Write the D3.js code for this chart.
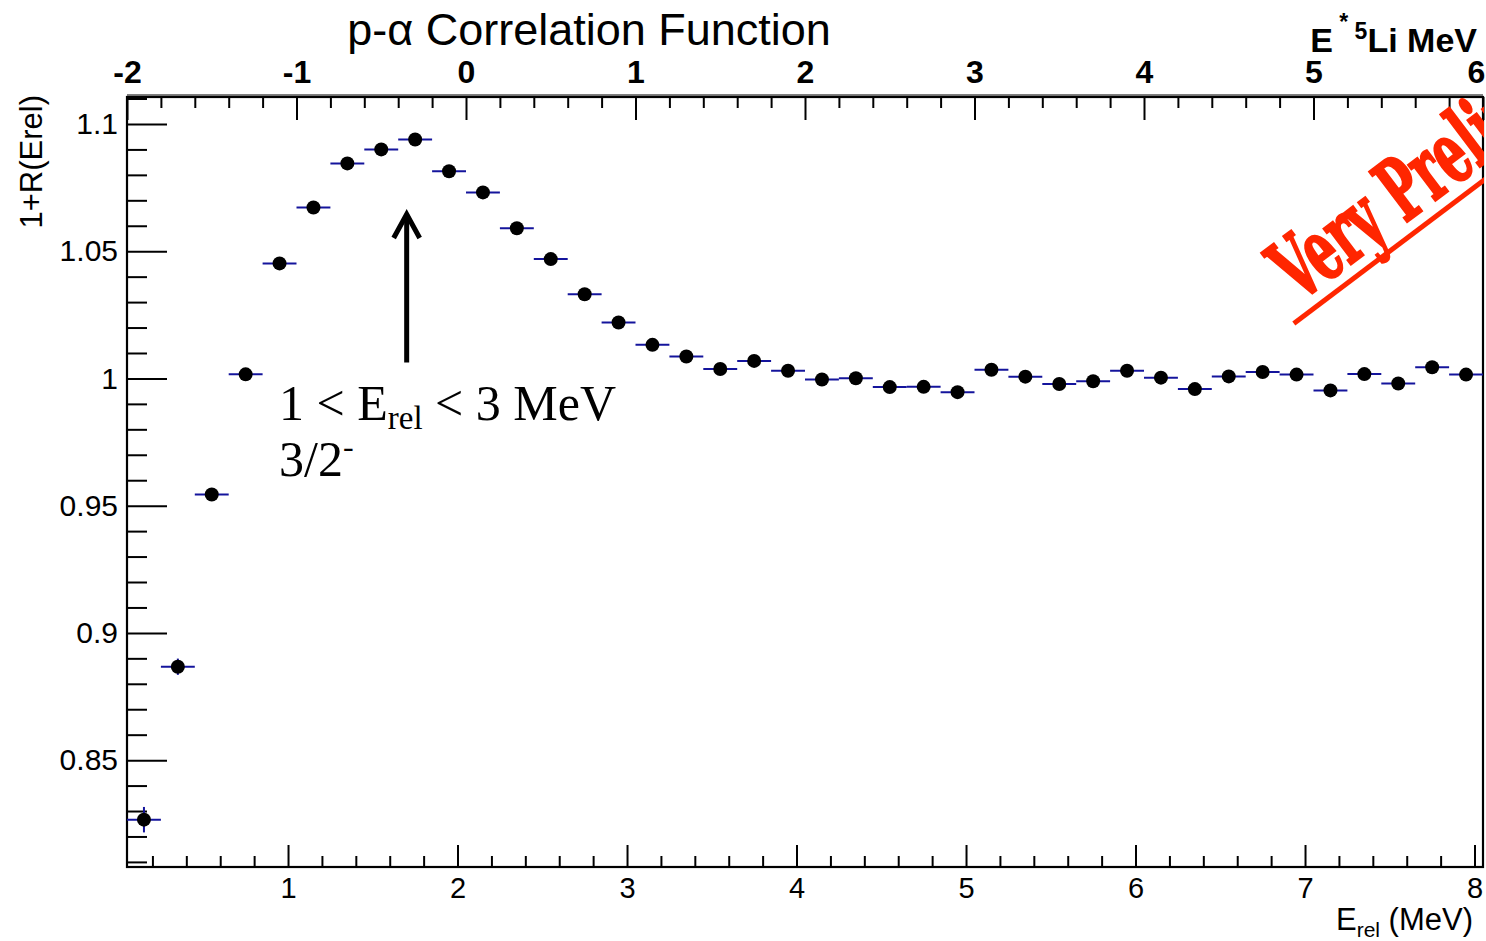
<!DOCTYPE html>
<html>
<head>
<meta charset="utf-8">
<script src="https://cdn.jsdelivr.net/npm/d3@7/dist/d3.min.js"></script>
<style>
  html, body { margin: 0; padding: 0; background: #fff; }
  svg { display: block; }
</style>
</head>
<body>
<svg id="chart" width="1486" height="941"></svg>
<script>
// p-alpha correlation function, 0.2 MeV bins in relative energy
const binCenters = [
  0.15, 0.35, 0.55, 0.75, 0.95, 1.15, 1.35, 1.55, 1.75, 1.95,
  2.15, 2.35, 2.55, 2.75, 2.95, 3.15, 3.35, 3.55, 3.75, 3.95,
  4.15, 4.35, 4.55, 4.75, 4.95, 5.15, 5.35, 5.55, 5.75, 5.95,
  6.15, 6.35, 6.55, 6.75, 6.95, 7.15, 7.35, 7.55, 7.75, 7.95
];
const corrValues = [
  0.8266, 0.8867, 0.9544, 1.0016, 1.0452, 1.0672, 1.0845, 1.0900, 1.0939, 1.0814,
  1.0731, 1.0590, 1.0469, 1.0331, 1.0220, 1.0132, 1.0086, 1.0037, 1.0069, 1.0030,
  0.9996, 1.0001, 0.9966, 0.9967, 0.9946, 1.0034, 1.0007, 0.9978, 0.9989, 1.0030,
  1.0003, 0.9958, 1.0008, 1.0025, 1.0015, 0.9953, 1.0017, 0.9980, 1.0044, 1.0015
];
const corrErrors = [
  0.0050, 0.0032, 0.0024, 0.0020, 0.0018, 0.0017, 0.0016, 0.0016, 0.0015, 0.0015,
  0.0015, 0.0015, 0.0014, 0.0014, 0.0014, 0.0014, 0.0014, 0.0014, 0.0014, 0.0014,
  0.0014, 0.0014, 0.0014, 0.0014, 0.0014, 0.0014, 0.0014, 0.0014, 0.0014, 0.0014,
  0.0014, 0.0014, 0.0014, 0.0014, 0.0014, 0.0014, 0.0014, 0.0014, 0.0014, 0.0014
];
const binHalfWidth = 0.1;

// axis ticks
const bottomMajor = [1, 2, 3, 4, 5, 6, 7, 8];
const topMajor = [-2, -1, 0, 1, 2, 3, 4, 5, 6];
const leftMajor = [0.85, 0.9, 0.95, 1, 1.05, 1.1];

// excitation energy of 5Li = E_rel - 2.05 MeV
const eStarOffset = 2.05;

const W = 1486, H = 941;
const frame = { left: 127, right: 1483, top: 97, bottom: 867 };

const svg = d3.select("#chart");

const x = d3.scaleLinear().domain([0.05, 8.05]).range([frame.left, frame.right]);
const xTop = d3.scaleLinear()
  .domain([0.05 - eStarOffset, 8.05 - eStarOffset])
  .range([frame.left, frame.right]);
const y = d3.scaleLinear().domain([0.808, 1.1106]).range([frame.bottom, frame.top]);

const sans = "'Liberation Sans', Arial, Helvetica, sans-serif";
const serif = "'Liberation Serif', 'Times New Roman', serif";

const round2 = v => Math.round(v * 100) / 100;
const bottomMinor = d3.range(1, 41).map(i => round2(i * 0.2)).filter(v => !Number.isInteger(v) && v <= 8.05);
const topMinor = d3.range(-10, 31).map(i => round2(i * 0.2)).filter(v => !Number.isInteger(v) && v >= -2 && v <= 6);
const leftMinor = d3.range(81, 112).map(i => i / 100).filter(v => Math.round(v * 100) % 5 !== 0);

function styleAxis(g, size) {
  g.select(".domain").remove();
  g.selectAll(".tick line").attr("stroke", "#000").attr("stroke-width", 2);
  g.selectAll(".tick text").attr("fill", "#000").attr("font-family", sans).attr("font-size", size);
}

// bottom axis (ticks point into the frame)
svg.append("g")
  .attr("transform", `translate(0,${frame.bottom})`)
  .call(d3.axisBottom(x).tickValues(bottomMinor).tickFormat("").tickSizeInner(-11).tickSizeOuter(0))
  .call(g => styleAxis(g, 29));
svg.append("g")
  .attr("transform", `translate(0,${frame.bottom})`)
  .call(d3.axisBottom(x).tickValues(bottomMajor).tickFormat(d3.format("d")).tickSizeInner(-22).tickSizeOuter(0).tickPadding(10))
  .call(g => styleAxis(g, 29));

// top axis: E* of 5Li
svg.append("g")
  .attr("transform", `translate(0,${frame.top})`)
  .call(d3.axisTop(xTop).tickValues(topMinor).tickFormat("").tickSizeInner(-11).tickSizeOuter(0))
  .call(g => styleAxis(g, 32));
svg.append("g")
  .attr("transform", `translate(0,${frame.top})`)
  .call(d3.axisTop(xTop).tickValues(topMajor).tickFormat(d3.format("d")).tickSizeInner(-23).tickSizeOuter(0).tickPadding(14))
  .call(g => styleAxis(g, 32))
  .call(g => g.selectAll(".tick text")
    .attr("font-weight", "bold")
    .text(d => d < 0 ? "-" + Math.abs(d) : d)
    .attr("dx", d => d === 6 ? -7 : 0));

// left axis
svg.append("g")
  .attr("transform", `translate(${frame.left},0)`)
  .call(d3.axisLeft(y).tickValues(leftMinor).tickFormat("").tickSizeInner(-20).tickSizeOuter(0))
  .call(g => styleAxis(g, 30));
svg.append("g")
  .attr("transform", `translate(${frame.left},0)`)
  .call(d3.axisLeft(y).tickValues(leftMajor).tickFormat(d => String(d)).tickSizeInner(-40).tickSizeOuter(0).tickPadding(9))
  .call(g => styleAxis(g, 30));

// frame
svg.append("rect")
  .attr("x", frame.left).attr("y", frame.top)
  .attr("width", frame.right - frame.left).attr("height", frame.bottom - frame.top)
  .attr("fill", "none").attr("stroke", "#000").attr("stroke-width", 2.2);
svg.append("line")
  .attr("x1", frame.left).attr("x2", frame.right)
  .attr("y1", frame.top - 2).attr("y2", frame.top - 2)
  .attr("stroke", "#000").attr("stroke-width", 1.2);

// data points with error bars
const points = binCenters.map((c, i) => ({ x: c, v: corrValues[i], e: corrErrors[i] }));
const pts = svg.append("g");
pts.selectAll("line.hbar").data(points).join("line")
  .attr("class", "hbar")
  .attr("x1", d => x(d.x - binHalfWidth)).attr("x2", d => x(d.x + binHalfWidth))
  .attr("y1", d => y(d.v)).attr("y2", d => y(d.v))
  .attr("stroke", "#14149c").attr("stroke-width", 2);
pts.selectAll("line.vbar").data(points).join("line")
  .attr("class", "vbar")
  .attr("x1", d => x(d.x)).attr("x2", d => x(d.x))
  .attr("y1", d => y(d.v - d.e)).attr("y2", d => y(d.v + d.e))
  .attr("stroke", "#14149c").attr("stroke-width", 2);
pts.selectAll("circle").data(points).join("circle")
  .attr("cx", d => x(d.x)).attr("cy", d => y(d.v)).attr("r", 7)
  .attr("fill", "#000");

// title
svg.append("text")
  .attr("x", 589).attr("y", 45)
  .attr("text-anchor", "middle")
  .attr("font-family", sans).attr("font-size", 45)
  .text("p-α Correlation Function");

// top axis title
const topTitle = svg.append("text")
  .attr("x", 1477).attr("y", 52)
  .attr("text-anchor", "end")
  .attr("font-family", sans).attr("font-size", 34).attr("font-weight", "bold");
topTitle.append("tspan").text("E");
topTitle.append("tspan").attr("font-size", 23).attr("dy", -22).text(" *");
topTitle.append("tspan").attr("font-size", 23).attr("dy", 9).text(" 5");
topTitle.append("tspan").attr("dy", 13).text("Li MeV");

// bottom axis title
const xTitle = svg.append("text")
  .attr("x", 1473).attr("y", 930)
  .attr("text-anchor", "end")
  .attr("font-family", sans).attr("font-size", 31);
xTitle.append("tspan").text("E");
xTitle.append("tspan").attr("font-size", 21).attr("dy", 7).text("rel");
xTitle.append("tspan").attr("dy", -7).text(" (MeV)");

// y axis title
svg.append("text")
  .attr("transform", `translate(42,${frame.top - 2}) rotate(-90)`)
  .attr("text-anchor", "end")
  .attr("font-family", sans).attr("font-size", 31)
  .text("1+R(Erel)");

// resonance marker arrow
const arrowX = x(1.70);
const arrow = svg.append("g").attr("stroke", "#000").attr("stroke-width", 5).attr("fill", "none");
arrow.append("line").attr("x1", arrowX).attr("x2", arrowX).attr("y1", y(1.0063)).attr("y2", y(1.0645));
arrow.append("polyline")
  .attr("stroke-linejoin", "miter")
  .attr("points", `${arrowX - 13},${y(1.0552)} ${arrowX},${y(1.0645)} ${arrowX + 13},${y(1.0552)}`);

// annotation
const ann1 = svg.append("text")
  .attr("x", 279).attr("y", 420)
  .attr("font-family", serif).attr("font-size", 50);
ann1.append("tspan").text("1 < E");
ann1.append("tspan").attr("font-size", 33).attr("dy", 9).text("rel");
ann1.append("tspan").attr("dy", -9).text(" < 3 MeV");
const ann2 = svg.append("text")
  .attr("x", 279).attr("y", 476)
  .attr("font-family", serif).attr("font-size", 50);
ann2.append("tspan").text("3/2");
ann2.append("tspan").attr("font-size", 32).attr("dy", -19).text("-");

// preliminary stamp, clipped to the frame
svg.append("clipPath").attr("id", "frameClip")
  .append("rect").attr("x", 0).attr("y", 0).attr("width", frame.right + 1).attr("height", H);
const stamp = svg.append("g")
  .attr("clip-path", "url(#frameClip)")
  .append("g")
  .attr("transform", "translate(1298,304) rotate(-37)");
stamp.append("text")
  .attr("transform", "scale(0.62,1)")
  .attr("x", 2).attr("y", 0)
  .attr("font-family", "'DejaVu Serif Condensed', 'DejaVu Serif', serif")
  .attr("font-weight", "bold")
  .attr("font-size", 86)
  .attr("fill", "#ff2600")
  .attr("stroke", "#ff2600")
  .attr("stroke-width", 2.5)
  .text("Very Preliminary");
stamp.append("line")
  .attr("x1", -15).attr("x2", 400).attr("y1", 13).attr("y2", 13)
  .attr("stroke", "#ff2600").attr("stroke-width", 5);
</script>
</body>
</html>
